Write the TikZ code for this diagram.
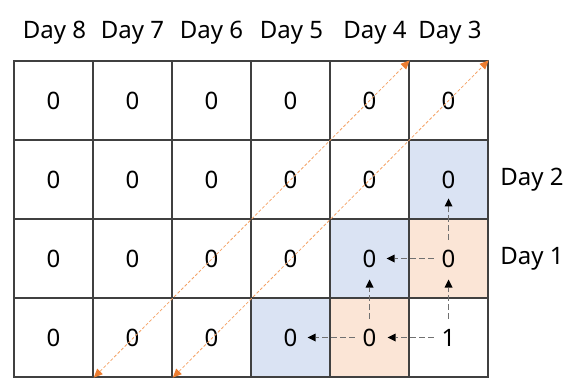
\documentclass[tikz,border=0pt]{standalone}
\usepackage{fontspec}
\setmainfont{Noto Sans}
\usetikzlibrary{arrows.meta}
\definecolor{gridc}{HTML}{404040}
\definecolor{bluec}{HTML}{DAE3F3}
\definecolor{orangec}{HTML}{FBE5D6}
\definecolor{diagc}{HTML}{F4A266}
\definecolor{diagtip}{HTML}{ED7D31}
\definecolor{darrc}{HTML}{707070}
\begin{document}
\begin{tikzpicture}[x=1pt,y=-1pt,
  cell/.style={draw=gridc, line width=1.4pt, minimum width=79pt, minimum height=79pt, inner sep=0pt, font=\fontsize{24}{27}\selectfont},
  bcell/.style={cell, fill=bluec},
  ocell/.style={cell, fill=orangec},
  lbl/.style={inner sep=0pt, font=\fontsize{24}{27}\selectfont},
  diag/.style={draw=diagc, line width=0.8pt, dash pattern=on 3pt off 2pt,
    {Triangle[length=9pt,width=8pt,color=diagtip,line width=0pt]}-{Triangle[length=9pt,width=8pt,color=diagtip,line width=0pt]}},
  darr/.style={draw=darrc, line width=1pt, dash pattern=on 6pt off 3pt, -{Triangle[length=8pt,width=8pt,color=black,line width=0pt]}}]
\useasboundingbox (0,0) rectangle (580,387);
% cells
\foreach \r in {1,...,4}{
  \foreach \c in {1,...,6}{
    \node[cell] (c\r\c) at ({53.5+79*(\c-1)},{100.5+79*(\r-1)}) {};
  }
}
\node[bcell] (c26) at (448.5,179.5) {0};
\node[bcell] (c35) at (369.5,258.5) {0};
\node[ocell] (c36) at (448.5,258.5) {0};
\node[bcell] (c44) at (290.5,337.5) {0};
\node[ocell] (c45) at (369.5,337.5) {0};
% texts in plain cells
\foreach \r/\c in {1/1,1/2,1/3,1/4,1/5,1/6,2/1,2/2,2/3,2/4,2/5,3/1,3/2,3/3,3/4,4/1,4/2,4/3}{
  \node[lbl] at (c\r\c) {0};
}
\node[lbl] (one) at (c46) {1};
% headers
\node[lbl] (h8) at (54.5,33) {Day 8};
\node[lbl] (h7) at (132.5,33) {Day 7};
\node[lbl] (h6) at (211.5,33) {Day 6};
\node[lbl] (h5) at (291.5,33) {Day 5};
\node[lbl] (h4) at (375,33) {Day 4};
\node[lbl] (h3) at (450,33) {Day 3};
\node[lbl] (d2) at (532,179.5) {Day 2};
\node[lbl] (d1) at (532,258.5) {Day 1};
% diagonals
\coordinate (a1) at (c41.south east);
\coordinate (a2) at (c15.north east);
\coordinate (b1) at (c42.south east);
\coordinate (b2) at (c16.north east);
\draw[diag] (a1) -- (a2);
\draw[diag] (b1) -- (b2);
% dashed arrows
\draw[darr] ([xshift=-15pt]c46.center) -- ([xshift=18pt]c45.center);
\draw[darr] ([xshift=-15pt]c45.center) -- ([xshift=17pt]c44.center);
\draw[darr] ([xshift=-15pt]c36.center) -- ([xshift=17pt]c35.center);
\draw[darr] ([yshift=19pt]c46.center) -- ([yshift=-21pt]c36.center);
\draw[darr] ([yshift=19pt]c45.center) -- ([yshift=-21pt]c35.center);
\draw[darr] ([yshift=19pt]c36.center) -- ([yshift=-19pt]c26.center);
\end{tikzpicture}
\end{document}
